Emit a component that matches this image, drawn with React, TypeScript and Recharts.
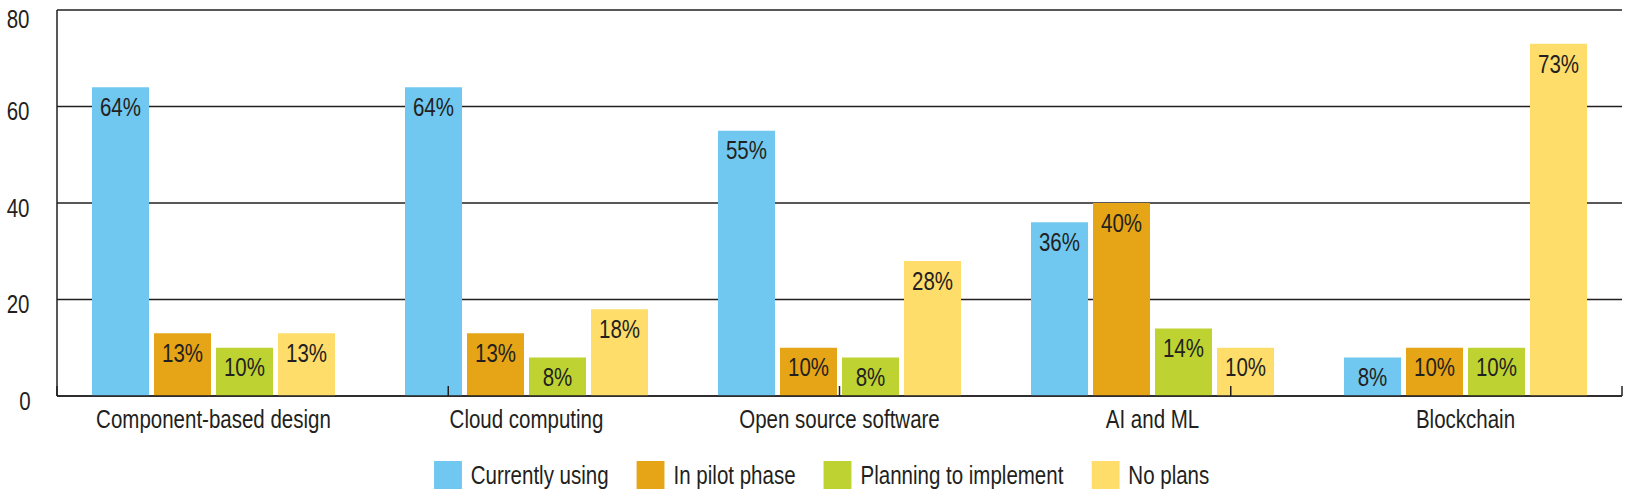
import { BarChart, Bar, XAxis, YAxis, CartesianGrid, Legend, LabelList } from 'recharts'

const categories = ['Component-based design', 'Cloud computing', 'Open source software', 'AI and ML', 'Blockchain']
const currentlyUsing = [64, 64, 55, 36, 8]
const inPilotPhase = [13, 13, 10, 40, 10]
const planningToImplement = [10, 8, 8, 14, 10]
const noPlans = [13, 18, 28, 10, 73]
const yTicks = [0, 20, 40, 60, 80]
const edgeTicks = [0, 1, 2, 3, 4, 5]

const series = [
  { key: 'current', name: 'Currently using', color: '#70C8F0', values: currentlyUsing },
  { key: 'pilot', name: 'In pilot phase', color: '#E5A517', values: inPilotPhase },
  { key: 'planning', name: 'Planning to implement', color: '#BED332', values: planningToImplement },
  { key: 'none', name: 'No plans', color: '#FEDD6B', values: noPlans },
]

const data = categories.map((name, i) => {
  const row: Record<string, string | number> = { name }
  series.forEach(s => { row[s.key] = s.values[i] })
  return row
})

// no condensed face installed, so squeeze Liberation Sans horizontally
const FONT = "'Liberation Sans', Arial, sans-serif"
const SQUEEZE = 0.82
const INK = '#231F20'
const tickStyle = { fontSize: 25, fill: INK, fontFamily: FONT }

const css = `
.chart text { transform-box: fill-box; transform-origin: 50% 50%; transform: scaleX(${SQUEEZE}); }
.chart .recharts-yAxis text { transform-origin: 100% 50%; }
`

function LegendContent({ payload }: any) {
  const items = [...(payload ?? [])].sort(
    (a: any, b: any) => series.findIndex(s => s.name === a.value) - series.findIndex(s => s.name === b.value)
  )
  return (
    <div style={{
      display: 'flex', justifyContent: 'center', fontFamily: FONT, fontSize: 25, color: INK,
      transform: `scaleX(${SQUEEZE})`, transformOrigin: '50% 50%',
    }}>
      {items.map((p: any, i: number) => (
        <div key={p.value} style={{ display: 'flex', alignItems: 'center', marginRight: i < items.length - 1 ? 28 / SQUEEZE : 0 }}>
          <span style={{ width: 28 / SQUEEZE, height: 28, background: p.color, display: 'inline-block', marginRight: 9 / SQUEEZE }} />
          <span style={{ lineHeight: '28px' }}>{p.value}</span>
        </div>
      ))}
    </div>
  )
}

// boundary ticks only, no labels
const NoLabel = () => <g />

export default function App() {
  return (
    <div className="chart" style={{ position: 'absolute', left: 0, top: 0, fontFamily: FONT }}>
      <style>{css}</style>
      <BarChart
        width={1643}
        height={502}
        data={data}
        margin={{ top: 10, right: 21, left: 0, bottom: 62 }}
        barSize={57}
        barGap={5}
      >
        <CartesianGrid vertical={false} stroke={INK} strokeWidth={1.5} />
        <XAxis
          xAxisId="cat"
          dataKey="name"
          height={44}
          axisLine={{ stroke: INK, strokeWidth: 1.5 }}
          tickLine={false}
          tickSize={0}
          tickMargin={14}
          tick={tickStyle}
          interval={0}
        />
        <XAxis
          xAxisId="edges"
          type="number"
          domain={[0, 5]}
          ticks={edgeTicks}
          allowDataOverflow
          mirror
          height={1}
          axisLine={false}
          tick={NoLabel}
          tickSize={10}
          tickMargin={0}
          tickLine={{ stroke: INK, strokeWidth: 1.5 }}
          interval={0}
        />
        <YAxis
          width={57}
          domain={[0, 80]}
          ticks={yTicks}
          axisLine={{ stroke: INK, strokeWidth: 1.5 }}
          tickLine={false}
          tickSize={0}
          tickMargin={25}
          tick={{ ...tickStyle, dy: 5 }}
        />
        <Legend
          verticalAlign="middle"
          align="center"
          layout="horizontal"
          content={<LegendContent />}
          wrapperStyle={{ top: 461, left: 0, width: 1643 }}
        />
        {series.map(s => (
          <Bar key={s.key} xAxisId="cat" dataKey={s.key} name={s.name} fill={s.color} isAnimationActive={false}>
            <LabelList
              dataKey={s.key}
              position="insideTop"
              offset={11}
              formatter={(v: any) => `${v}%`}
              style={{ fontSize: 25, fill: INK, fontFamily: FONT }}
            />
          </Bar>
        ))}
      </BarChart>
    </div>
  )
}
